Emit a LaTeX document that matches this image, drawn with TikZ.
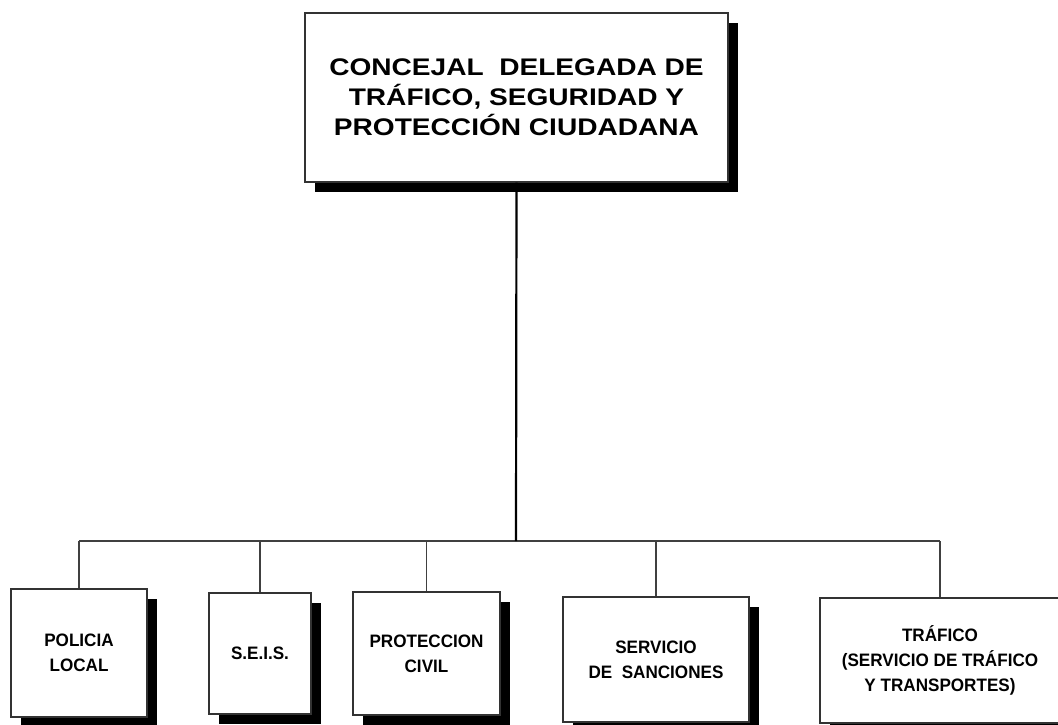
\documentclass[tikz,border=0pt]{standalone}
\usepackage{fontspec}
\setmainfont{Liberation Sans}
\newfontfamily\widefont[FakeStretch=1.17]{Liberation Sans}
\newfontfamily\narrowfont[FakeStretch=0.95]{Liberation Sans}
\usetikzlibrary{shadows}
\begin{document}
\begin{tikzpicture}[x=1pt,y=-1pt,
  orgbox/.style={draw=black!80, line width=1.2pt, fill=white, inner sep=0pt, align=center,
    general shadow={fill=black, shadow xshift=10pt, shadow yshift=-10pt}},
  topbox/.style={orgbox, font=\widefont\bfseries\fontsize{24}{30}\selectfont},
  unitbox/.style={orgbox, font=\narrowfont\bfseries\fontsize{18}{25}\selectfont},
  trunk/.style={line width=2.2pt, black},
  branch/.style={line width=1.4pt, black!75}]
\useasboundingbox (0,0) rectangle (1058,725);
\node[topbox, minimum width=423pt, minimum height=169pt] (top) at (516.5,97.5)
  {CONCEJAL\ \ DELEGADA DE\\TRÁFICO, SEGURIDAD Y\\PROTECCIÓN CIUDADANA};
\node[unitbox, minimum width=136pt, minimum height=128pt] (p1) at (79,653) {POLICIA\\LOCAL};
\node[unitbox, minimum width=102pt, minimum height=121pt] (p2) at (260,653.5) {S.E.I.S.};
\node[unitbox, minimum width=147pt, minimum height=123pt] (p3) at (426.5,653.5) {PROTECCION\\CIVIL};
\node[unitbox, minimum width=186pt, minimum height=125pt] (p4) at (656,659.5) {SERVICIO\\DE\ \ SANCIONES};
\node[unitbox, minimum width=240pt, minimum height=125pt] (p5) at (940,660.5) {TRÁFICO\\(SERVICIO DE TRÁFICO\\Y TRANSPORTES)};
\coordinate (bus) at (516,541);
\draw[branch] (p1.north |- bus) -- (p5.north |- bus);
\foreach \b in {p1,p2,p3,p4,p5} {\draw[branch] (\b.north) -- (\b.north |- bus);}
\draw[trunk] (top.south) -- (bus);
\end{tikzpicture}
\end{document}
